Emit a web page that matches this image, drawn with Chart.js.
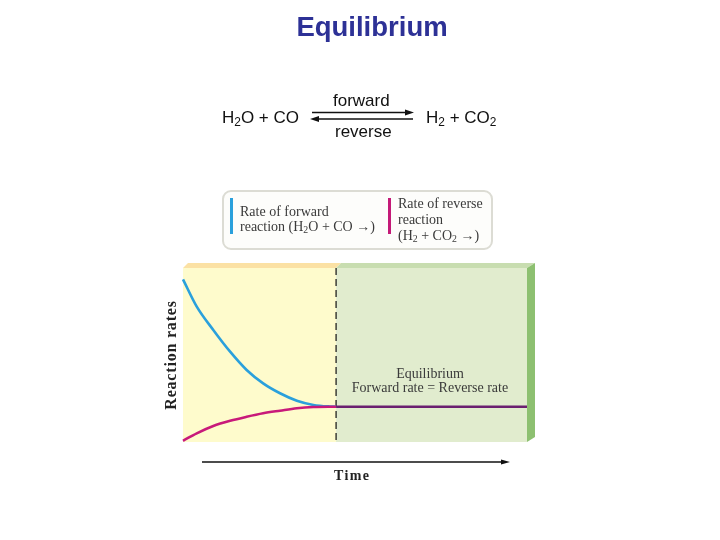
<!DOCTYPE html>
<html>
<head>
<meta charset="utf-8">
<script src="https://cdn.jsdelivr.net/npm/chart.js@4/dist/chart.umd.min.js"></script>
<style>
  html, body { margin: 0; padding: 0; background: #fff; }
  #wrap { position: relative; width: 720px; height: 540px; overflow: hidden; }
  #chart { position: absolute; left: 0; top: 0; }
  .t { position: absolute; white-space: nowrap; line-height: 1; }
  .sans { font-family: Arial, "Liberation Sans", sans-serif; color: #111; }
  .serif { font-family: "Liberation Serif", "Times New Roman", serif; color: #3a3a3a; }
  sub { font-size: 0.7em; vertical-align: -0.25em; line-height: 0; }
  #title { left: 222px; width: 300px; top: 13px; text-align: center; font-size: 27.5px; font-weight: bold; color: #2d3196; }
  #legend { position: absolute; left: 222px; top: 190px; width: 267px; height: 56px;
            border: 2px solid #dcdcd4; border-radius: 9px; background: #fdfdfb; }
  .bar { position: absolute; width: 3px; }
  #ytitle { left: 171px; top: 355px; font-size: 16px; font-weight: bold; color: #222; letter-spacing: 0.8px;
            transform: translate(-50%, -50%) rotate(-90deg); }
</style>
</head>
<body>
<div id="wrap">
  <canvas id="chart" width="720" height="540"></canvas>

  <div class="t sans" id="title">Equilibrium</div>

  <!-- reaction equation -->
  <div class="t sans" style="left:222px; top:109px; font-size:17px;">H<sub>2</sub>O + CO</div>
  <div class="t sans" style="left:333px; top:92px; font-size:17px;">forward</div>
  <div class="t sans" style="left:335px; top:123px; font-size:17px;">reverse</div>
  <div class="t sans" style="left:426px; top:109px; font-size:17px;">H<sub>2</sub> + CO<sub>2</sub></div>
  <svg style="position:absolute; left:0; top:0;" width="720" height="540">
    <line x1="312" y1="112.5" x2="409" y2="112.5" stroke="#111" stroke-width="1.6"/>
    <polygon points="414,112.5 405,109.5 405,115.5" fill="#111"/>
    <line x1="315" y1="119" x2="413" y2="119" stroke="#111" stroke-width="1.6"/>
    <polygon points="310,119 319,116 319,122" fill="#111"/>
  </svg>

  <!-- legend -->
  <div id="legend"></div>
  <div class="bar" style="left:230px; top:198px; height:36px; background:#2aa0dc;"></div>
  <div class="t serif" style="left:240px; top:205px; font-size:14px;">Rate of forward</div>
  <div class="t serif" style="left:240px; top:220px; font-size:14px;">reaction (H<sub>2</sub>O + CO →)</div>
  <div class="bar" style="left:388px; top:198px; height:36px; background:#c41a78;"></div>
  <div class="t serif" style="left:398px; top:197px; font-size:14px;">Rate of reverse</div>
  <div class="t serif" style="left:398px; top:213px; font-size:14px;">reaction</div>
  <div class="t serif" style="left:398px; top:229px; font-size:14px;">(H<sub>2</sub> + CO<sub>2</sub> →)</div>

  <!-- annotations -->
  <div class="t serif" id="ytitle">Reaction rates</div>
  <div class="t serif" style="left:330px; width:200px; text-align:center; top:367px; font-size:14px;">Equilibrium</div>
  <div class="t serif" style="left:330px; width:200px; text-align:center; top:381px; font-size:14px;">Forward rate = Reverse rate</div>
  <div class="t serif" style="left:334px; top:469px; font-size:14px; font-weight:bold; color:#222; letter-spacing:1.4px;">Time</div>
</div>

<script>
// ── Data (time 0..100, rate 0..100) ───────────────────────────────────────

const EQ_TIME = 44.5;
const EQ_RATE = 20.3;

const forwardTime = [0, 4.0, 8.8, 13.7, 18.5, 23.3, 28.2, 33.1, 37.9, 42.7, EQ_TIME];
const forwardRate = [93.5, 77.8, 64.4, 51.9, 41.4, 33.7, 28.0, 23.7, 21.3, 20.4, EQ_RATE];

const reverseTime = [0, 4.0, 8.8, 13.7, 18.5, 23.3, 28.2, 33.1, 37.9, EQ_TIME];
const reverseRate = [0.7, 5.0, 9.2, 12.2, 14.5, 16.5, 18.0, 19.4, 20.1, EQ_RATE];

const equilTime = [EQ_TIME, 100];
const equilRate = [EQ_RATE, EQ_RATE];

const toPoints = (xs, ys) => xs.map((x, i) => ({ x, y: ys[i] }));

// ── Background panel (yellow before equilibrium, green after) ────────────

const panelPlugin = {
  id: 'panel',
  beforeDatasetsDraw(chart) {
    const { ctx, chartArea: a, scales } = chart;
    const xe = scales.x.getPixelForValue(EQ_TIME);
    const d = 5;
    ctx.save();
    ctx.fillStyle = '#fefbcc';
    ctx.fillRect(a.left, a.top, xe - a.left, a.bottom - a.top);
    ctx.fillStyle = '#e1ecce';
    ctx.fillRect(xe, a.top, a.right - xe, a.bottom - a.top);
    // top face
    ctx.fillStyle = '#fbe1a4';
    ctx.beginPath();
    ctx.moveTo(a.left, a.top); ctx.lineTo(a.left + d, a.top - d);
    ctx.lineTo(xe + d, a.top - d); ctx.lineTo(xe, a.top); ctx.closePath(); ctx.fill();
    ctx.fillStyle = '#c8ddb0';
    ctx.beginPath();
    ctx.moveTo(xe, a.top); ctx.lineTo(xe + d, a.top - d);
    ctx.lineTo(a.right + 8, a.top - d); ctx.lineTo(a.right, a.top); ctx.closePath(); ctx.fill();
    // side face
    ctx.fillStyle = '#8dc071';
    ctx.beginPath();
    ctx.moveTo(a.right, a.top); ctx.lineTo(a.right + 8, a.top - d);
    ctx.lineTo(a.right + 8, a.bottom - d); ctx.lineTo(a.right, a.bottom); ctx.closePath(); ctx.fill();
    // dashed divider
    ctx.strokeStyle = '#111';
    ctx.lineWidth = 1.2;
    ctx.setLineDash([7, 4]);
    ctx.beginPath();
    ctx.moveTo(xe, a.top); ctx.lineTo(xe, a.bottom);
    ctx.stroke();
    ctx.setLineDash([]);
    // time arrow
    const ya = a.bottom + 20;
    ctx.lineWidth = 1.3;
    ctx.beginPath();
    ctx.moveTo(a.left + 19, ya); ctx.lineTo(a.right - 21, ya);
    ctx.stroke();
    ctx.fillStyle = '#111';
    ctx.beginPath();
    ctx.moveTo(a.right - 17, ya); ctx.lineTo(a.right - 26, ya - 2.5); ctx.lineTo(a.right - 26, ya + 2.5);
    ctx.closePath(); ctx.fill();
    ctx.restore();
  }
};

// ── Chart ─────────────────────────────────────────────────────────────────

new Chart(document.getElementById('chart'), {
  type: 'line',
  data: {
    datasets: [
      {
        label: 'Rate of reverse reaction',
        data: toPoints(reverseTime, reverseRate),
        borderColor: '#c8197a',
        borderWidth: 2.6,
        cubicInterpolationMode: 'monotone',
        pointRadius: 0
      },
      {
        label: 'Rate of forward reaction',
        data: toPoints(forwardTime, forwardRate),
        borderColor: '#2aa0dc',
        borderWidth: 2.6,
        cubicInterpolationMode: 'monotone',
        pointRadius: 0
      },
      {
        label: 'Equilibrium',
        data: toPoints(equilTime, equilRate),
        borderColor: '#6b1f70',
        borderWidth: 2.6,
        pointRadius: 0
      }
    ]
  },
  options: {
    responsive: false,
    animation: false,
    layout: { padding: { left: 183, right: 193, top: 268, bottom: 98 } },
    plugins: { legend: { display: false }, tooltip: { enabled: false } },
    scales: {
      x: { type: 'linear', min: 0, max: 100, display: false },
      y: { min: 0, max: 100, display: false }
    },
    clip: false
  },
  plugins: [panelPlugin]
});
</script>
</body>
</html>
